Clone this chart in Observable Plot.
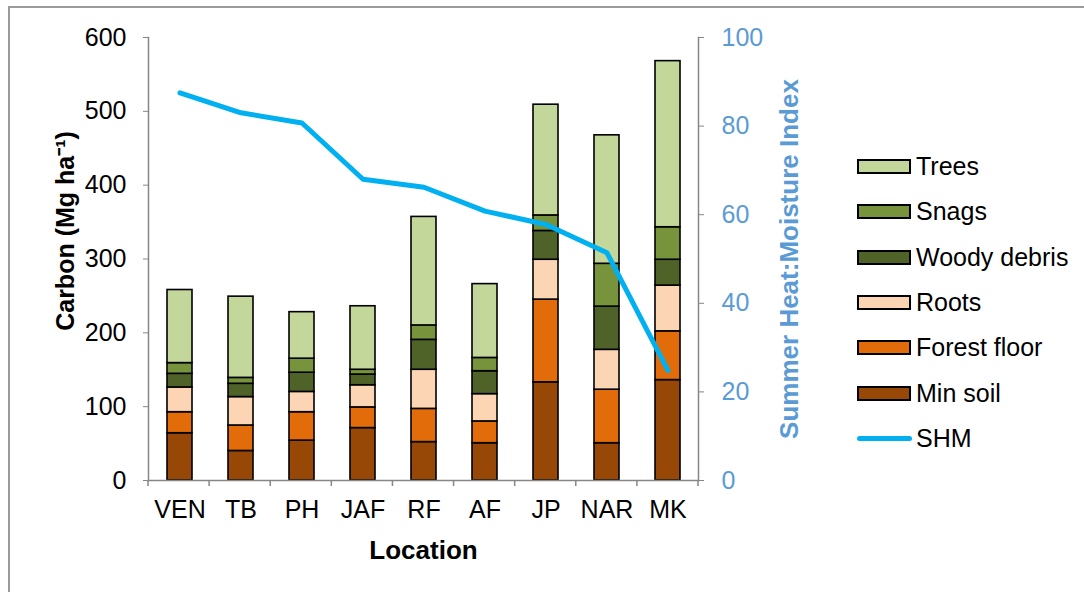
<!DOCTYPE html>
<html>
<head>
<meta charset="utf-8">
<script src="https://cdn.jsdelivr.net/npm/d3@7"></script>
<script src="https://cdn.jsdelivr.net/npm/@observablehq/plot@0.6"></script>
<style>
  html, body { margin: 0; padding: 0; background: #fff; }
  #wrap { position: relative; width: 1084px; height: 592px; overflow: hidden; font-family: "Liberation Sans", Arial, sans-serif; }
  #border { position: absolute; left: 8px; top: 6px; width: 1200px; height: 700px; border-left: 2px solid #9a9a9a; border-top: 2px solid #9a9a9a; }
  #chart { position: absolute; left: 0; top: 0; }
  #legend { position: absolute; left: 857px; top: 144px; }
  .item { position: relative; height: 45.3px; display: flex; align-items: center; font-size: 25px; color: #000; }
  .sw { width: 50px; height: 11px; border: 2px solid #000; margin-right: 5px; }
  .ln { width: 55px; height: 5px; border-radius: 3px; margin-right: 4px; }
</style>
</head>
<body>
<div id="wrap">
  <div id="border"></div>
  <div id="chart"></div>
  <div id="legend"></div>
</div>
<script>
const locations = ["VEN", "TB", "PH", "JAF", "RF", "AF", "JP", "NAR", "MK"];
const minSoil      = [64, 40, 54, 71, 52, 50.5, 133, 50.5, 136];
const forestFloor  = [28.5, 34.5, 38.5, 28, 45, 29.5, 112, 72.5, 66];
const roots        = [33.5, 38.5, 27.5, 30, 53, 37, 54, 54, 62];
const woodyDebris  = [18.5, 18, 26, 14.5, 40.5, 31, 39, 58.5, 35];
const snags        = [14.5, 8, 19, 6.5, 19.5, 18, 21, 58, 44];
const trees        = [99, 110, 63, 86, 147, 100, 150, 174, 225];
const shm          = [87.5, 83, 80.7, 68, 66.2, 60.8, 57.8, 51.4, 24.8];

const components = ["Min soil", "Forest floor", "Roots", "Woody debris", "Snags", "Trees"];
const compColors = ["#974706", "#E26B0A", "#FCD5B5", "#4F6228", "#77933C", "#C4D79B"];
const compValues = [minSoil, forestFloor, roots, woodyDebris, snags, trees];
const leftTicks = [0, 100, 200, 300, 400, 500, 600];
const rightTicks = [0, 20, 40, 60, 80, 100];
const shmColor = "#00B0F0";
const blue = "#5B9BD5";
const ratio = 6; // 100 SHM units span the 600 carbon units

const stacked = [];
components.forEach((c, j) => {
  locations.forEach((loc, i) => stacked.push({loc, comp: c, value: compValues[j][i]}));
});
const shmData = locations.map((loc, i) => ({loc, shm: shm[i]}));

const chart = Plot.plot({
  width: 1084,
  height: 592,
  marginLeft: 148,
  marginRight: 386,
  marginTop: 37,
  marginBottom: 112,
  style: {fontFamily: '"Liberation Sans", Arial, sans-serif', background: "transparent", overflow: "visible"},
  x: {type: "band", domain: locations, padding: 0},
  y: {domain: [0, 600]},
  color: {domain: components, range: compColors},
  marks: [
    Plot.barY(stacked, {
      x: "loc", y: "value", fill: "comp", order: components,
      stroke: "#000", strokeWidth: 1.6, insetLeft: 18, insetRight: 18
    }),
    Plot.line(shmData, {
      x: "loc", y: d => d.shm * ratio, stroke: shmColor, strokeWidth: 5,
      strokeLinejoin: "round", strokeLinecap: "round"
    }),
    Plot.ruleY([0], {stroke: "#868686", strokeWidth: 1.5}),
    Plot.frame({anchor: "left", stroke: "#868686", strokeWidth: 1.5}),
    Plot.frame({anchor: "right", stroke: "#868686", strokeWidth: 1.5}),
    Plot.axisY(leftTicks, {
      anchor: "left", tickSize: 5, tickPadding: 17, fontSize: 25,
      stroke: "#868686", fill: "#000", label: null
    }),
    Plot.axisY(rightTicks.map(d => d * ratio), {
      anchor: "right", tickSize: 5, tickPadding: 18, fontSize: 25,
      tickFormat: d => d / ratio, stroke: "#868686", fill: blue, label: null
    }),
    Plot.axisX({tickSize: 0, tickPadding: 20, fontSize: 25, fill: "#000", label: null}),
    Plot.text(["Carbon (Mg ha\u207B\u00B9)"], {
      frameAnchor: "left", rotate: -90, dx: -83, dy: -28, textAnchor: "middle",
      fontSize: 25, fontWeight: "bold", fill: "#000"
    }),
    Plot.text(["Summer Heat:Moisture Index"], {
      frameAnchor: "right", rotate: -90, dx: 91, textAnchor: "middle",
      fontSize: 26, fontWeight: "bold", fill: blue
    }),
    Plot.text(["Location"], {
      frameAnchor: "bottom", dy: 78, fontSize: 26, fontWeight: "bold", fill: "#000"
    })
  ]
});

// category boundary ticks (Excel style, between categories)
const xs = chart.scale("x");
const [r0, r1] = xs.range;
const step = (r1 - r0) / locations.length;
const svg = d3.select(chart);
const y0 = chart.scale("y").apply(0);
for (let i = 0; i <= locations.length; i++) {
  svg.append("line")
    .attr("x1", r0 + i * step).attr("x2", r0 + i * step)
    .attr("y1", y0).attr("y2", y0 + 6)
    .attr("stroke", "#868686").attr("stroke-width", 1.5);
}
document.getElementById("chart").appendChild(chart);

// legend
const legend = d3.select("#legend");
const legendItems = components.map((c, i) => ({name: c, color: compColors[i]})).reverse();
legendItems.forEach(it => {
  const row = legend.append("div").attr("class", "item");
  row.append("div").attr("class", "sw").style("background", it.color);
  row.append("span").text(it.name);
});
const lrow = legend.append("div").attr("class", "item");
lrow.append("div").attr("class", "ln").style("background", shmColor);
lrow.append("span").text("SHM");
</script>
</body>
</html>
